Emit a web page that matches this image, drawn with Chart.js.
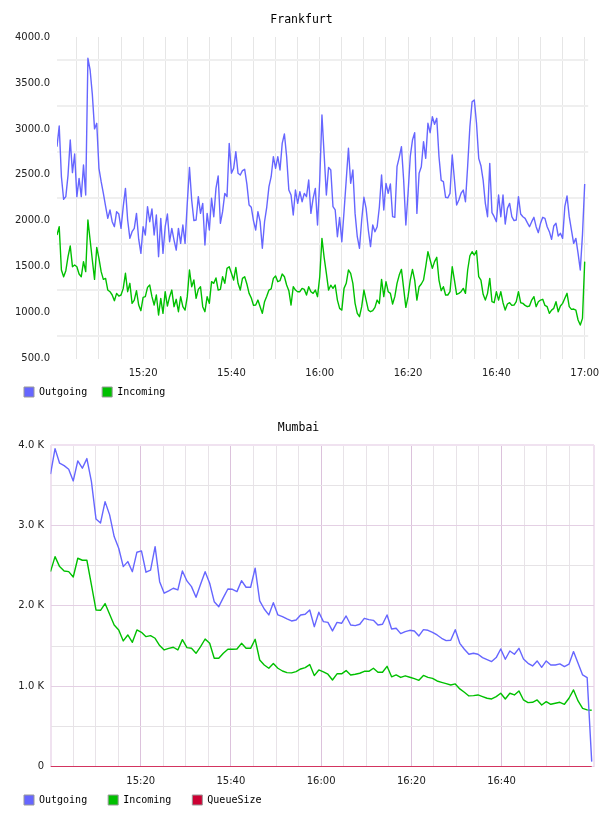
<!DOCTYPE html>
<html lang="en">
  <head>
    <meta charset="UTF-8" />
    <title>Frankfurt / Mumbai traffic</title>
    <script src="https://cdn.jsdelivr.net/npm/chart.js"></script>
    <style>
      body {
        margin: 0;
        background: #ffffff;
      }
      .box {
        width: 608px;
        height: 408px;
        overflow: hidden;
      }
    </style>
  </head>
  <body>
    <div class="box"><canvas id="frankfurt" width="608" height="408"></canvas></div>
    <div class="box"><canvas id="mumbai" width="608" height="408"></canvas></div>

    <script>
      // ---- data ----
      const baseTime = "15:00:00";

      const frankfurtStart = "15:00:30";
      const frankfurtStepSec = 30;
      const frankfurtTickLabels = ["15:20", "15:40", "16:00", "16:20", "16:40", "17:00"];
      const frankfurtYTicks = [500, 1000, 1500, 2000, 2500, 3000, 3500, 4000];

      const frankfurtOutgoing = [
        2807, 3032, 2480, 2234, 2263, 2498, 2879, 2524, 2727, 2263,
        2462, 2263, 2607, 2281, 3768, 3641, 3376, 3000, 3061, 2571,
        2426, 2299, 2161, 2027, 2118, 1991, 1936, 2100, 2074, 1918,
        2154, 2353, 2009, 1809, 1882, 1918, 2081, 1800, 1646, 1936,
        1846, 2154, 1990, 2130, 1846, 2063, 1610, 2027, 1646, 1936,
        2074, 1773, 1918, 1791, 1682, 1918, 1755, 1954, 1755, 2190,
        2582, 2226, 2002, 2009, 2263, 2081, 2190, 1737, 2081, 1900,
        2245, 2045, 2353, 2488, 1973, 2100, 2299, 2263, 2843, 2517,
        2571, 2752, 2517, 2499, 2546, 2560, 2400, 2172, 2147, 2000,
        1900, 2100, 1991, 1701, 1990, 2150, 2372, 2480, 2698, 2571,
        2698, 2553, 2843, 2945, 2700, 2335, 2281, 2063, 2335, 2190,
        2317, 2208, 2299, 2263, 2444, 2081, 2245, 2353, 1955, 2444,
        3151, 2716, 2281, 2582, 2553, 2154, 2118, 1827, 2038, 1773,
        2100, 2444, 2789, 2408, 2553, 2081, 1827, 1701, 2009, 2256,
        2136, 1900, 1719, 1955, 1882, 1936, 2150, 2499, 2118, 2408,
        2300, 2401, 2045, 2038, 2589, 2691, 2807, 2444, 1955, 2300,
        2700, 2879, 2959, 2081, 2517, 2589, 2861, 2680, 3061, 2959,
        3133, 3050, 3115, 2700, 2440, 2426, 2256, 2250, 2299, 2716,
        2450, 2172, 2226, 2300, 2335, 2208, 2600, 3024, 3296, 3315,
        3061, 2680, 2600, 2444, 2190, 2045, 2625, 2089, 2045, 1991,
        2281, 2045, 2281, 1965, 2136, 2190, 2045, 2002, 2009, 2263,
        2074, 2045, 2027, 1980, 1936, 1991, 2038, 1936, 1871, 1973,
        2038, 2027, 1936, 1882, 1798, 1944, 1973, 1835, 1864, 1809,
        2154, 2270, 2045, 1900, 1755, 1809, 1646, 1465, 1850, 2401,
      ];

      const frankfurtIncoming = [
        1846, 1936, 1465, 1392, 1458, 1610, 1726, 1501, 1519, 1501,
        1421, 1392, 1556, 1447, 2009, 1791, 1574, 1363, 1711, 1592,
        1447, 1363, 1374, 1247, 1229, 1193, 1131, 1211, 1182, 1193,
        1265, 1429, 1229, 1320, 1102, 1138, 1240, 1084, 1022, 1167,
        1175, 1276, 1301, 1175, 1084, 1193, 975, 1156, 993, 1229,
        1073, 1175, 1247, 1066, 1146, 1011, 1175, 1066, 1029, 1175,
        1465, 1283, 1356, 1156, 1254, 1283, 1066, 1011, 1175, 1102,
        1338, 1320, 1378, 1247, 1254, 1392, 1320, 1483, 1501, 1429,
        1356, 1494, 1320, 1247, 1374, 1392, 1313, 1211, 1160, 1080,
        1084, 1138, 1066, 993, 1120, 1180, 1247, 1260, 1374, 1400,
        1338, 1349, 1421, 1392, 1302, 1240, 1084, 1283, 1247, 1229,
        1229, 1265, 1254, 1193, 1283, 1229, 1211, 1247, 1175, 1392,
        1809, 1600, 1428, 1247, 1300, 1265, 1302, 1138, 1048, 1029,
        1265, 1320, 1465, 1428, 1320, 1102, 993, 957, 1066, 1247,
        1138, 1029, 1011, 1022, 1058, 1138, 1100, 1363, 1175, 1338,
        1229, 1211, 1095, 1175, 1320, 1410, 1472, 1265, 1058, 1175,
        1356, 1472, 1356, 1138, 1283, 1313, 1356, 1501, 1664, 1574,
        1483, 1556, 1603, 1356, 1240, 1283, 1193, 1193, 1230, 1501,
        1356, 1200, 1211, 1229, 1265, 1211, 1465, 1620, 1664, 1628,
        1675, 1392, 1356, 1200, 1138, 1211, 1374, 1120, 1109, 1229,
        1138, 1229, 1109, 1029, 1095, 1109, 1080, 1084, 1120, 1229,
        1109, 1102, 1080, 1066, 1073, 1138, 1175, 1066, 1120, 1138,
        1146, 1080, 1066, 993, 1029, 1048, 1120, 1011, 1073, 1102,
        1157, 1211, 1066, 1037, 1040, 1029, 921, 866, 939, 1556,
      ];

      const mumbaiStart = "15:00:00";
      const mumbaiStepSec = 60.5;
      const mumbaiTickLabels = ["15:20", "15:40", "16:00", "16:20", "16:40"];
      const mumbaiYTicks = [0, 1000, 2000, 3000, 4000];

      const mumbaiOutgoing = [
        3637, 3955, 3774, 3744, 3699, 3553, 3802, 3711, 3831, 3545,
        3081, 3031, 3296, 3131, 2861, 2716, 2488, 2550, 2425, 2667,
        2683, 2418, 2443, 2736, 2301, 2157, 2185, 2219, 2198, 2434,
        2310, 2239, 2107, 2269, 2425, 2281, 2052, 1990, 2102, 2210,
        2206, 2177, 2313, 2231, 2231, 2468, 2061, 1961, 1887, 2040,
        1887, 1866, 1837, 1812, 1824, 1887, 1895, 1949, 1741, 1920,
        1804, 1795, 1688, 1795, 1783, 1874, 1762, 1754, 1771, 1845,
        1829, 1820, 1762, 1771, 1887, 1713, 1721, 1655, 1680, 1696,
        1688, 1626, 1704, 1696, 1671, 1638, 1597, 1568, 1572, 1704,
        1534, 1460, 1398, 1410, 1398, 1357, 1332, 1307, 1357, 1464,
        1336, 1439, 1398, 1472, 1340, 1286, 1253, 1315, 1236, 1315,
        1265, 1265, 1278, 1245, 1274, 1431, 1286, 1141, 1108, 63,
      ];

      const mumbaiIncoming = [
        2425, 2612, 2488, 2434, 2425, 2359, 2592, 2567, 2567, 2260,
        1949, 1945, 2028, 1895, 1762, 1700, 1564, 1638, 1547, 1700,
        1671, 1617, 1630, 1597, 1506, 1452, 1472, 1485, 1452, 1580,
        1481, 1472, 1410, 1493, 1588, 1534, 1348, 1348, 1410, 1460,
        1460, 1464, 1534, 1472, 1472, 1584, 1327, 1265, 1224, 1282,
        1224, 1190, 1170, 1166, 1183, 1215, 1232, 1270, 1133, 1203,
        1180, 1150, 1078, 1155, 1155, 1195, 1141, 1149, 1162, 1186,
        1186, 1224, 1174, 1174, 1248, 1118, 1141, 1110, 1130, 1112,
        1095, 1074, 1135, 1110, 1099, 1066, 1049, 1033, 1016, 1029,
        967, 925, 880, 884, 892, 871, 851, 842, 871, 913,
        842, 913, 892, 942, 830, 797, 801, 830, 767, 809,
        776, 789, 801, 776, 851, 955, 818, 726, 706, 701,
      ];

      const mumbaiQueueSize = [
        0, 0, 0, 0, 0, 0, 0, 0, 0, 0, 0, 0, 0, 0, 0, 0, 0, 0, 0, 0,
        0, 0, 0, 0, 0, 0, 0, 0, 0, 0, 0, 0, 0, 0, 0, 0, 0, 0, 0, 0,
        0, 0, 0, 0, 0, 0, 0, 0, 0, 0, 0, 0, 0, 0, 0, 0, 0, 0, 0, 0,
        0, 0, 0, 0, 0, 0, 0, 0, 0, 0, 0, 0, 0, 0, 0, 0, 0, 0, 0, 0,
        0, 0, 0, 0, 0, 0, 0, 0, 0, 0, 0, 0, 0, 0, 0, 0, 0, 0, 0, 0,
        0, 0, 0, 0, 0, 0, 0, 0, 0, 0, 0, 0, 0, 0, 0, 0, 0, 0, 0, 0,
      ];

      // ---- helpers ----
      // minutes after baseTime
      function toMinutes(t) {
        const p = t.split(":").map(Number);
        const b = baseTime.split(":").map(Number);
        return (p[0] - b[0]) * 60 + (p[1] - b[1]) + ((p[2] || 0) - b[2]) / 60;
      }

      function toPoints(values, start, stepSec) {
        const t0 = toMinutes(start);
        return values.map((v, i) => ({ x: t0 + (i * stepSec) / 60, y: v }));
      }

      const tickFont = { family: "DejaVu Sans", size: 10 };
      const monoTitle = { family: "DejaVu Sans Mono", size: 11.5, weight: "normal" };
      const monoLegend = { family: "DejaVu Sans Mono", size: 10 };

      function legendLabels(chart) {
        return chart.data.datasets.map((ds, i) => ({
          text: ds.label,
          fillStyle: ds.borderColor,
          strokeStyle: "#999999",
          lineWidth: 1,
          hidden: false,
          datasetIndex: i,
          fontColor: "#000000",
        }));
      }

      // the legend row sits tighter under the tick labels than its padding allows
      const liftLegend = {
        id: "liftLegend",
        afterLayout(chart, args, opts) {
          const lg = chart.legend;
          if (!lg) return;
          lg.top -= opts.lift;
          lg.bottom -= opts.lift;
        },
      };

      function lineSet(label, color, points) {
        return {
          label: label,
          data: points,
          borderColor: color,
          backgroundColor: color,
          borderWidth: 1.4,
          pointRadius: 0,
          tension: 0,
          fill: false,
          borderJoinStyle: "round",
        };
      }

      Chart.defaults.animation = false;

      // ---- Frankfurt ----
      const fLabelled = frankfurtTickLabels.map(toMinutes);

      new Chart(document.getElementById("frankfurt"), {
        type: "line",
        plugins: [liftLegend],
        data: {
          datasets: [
            lineSet("Outgoing", "#6666ff", toPoints(frankfurtOutgoing, frankfurtStart, frankfurtStepSec)),
            lineSet("Incoming", "#00c000", toPoints(frankfurtIncoming, frankfurtStart, frankfurtStepSec)),
          ],
        },
        options: {
          responsive: false,
          events: [],
          layout: { padding: { left: 9, right: 14, top: 0, bottom: -6.5 } },
          plugins: {
            liftLegend: { lift: 7.5 },
            title: {
              display: true,
              text: "Frankfurt",
              color: "#000000",
              font: monoTitle,
              padding: { top: 13.6, bottom: 9.6 },
            },
            legend: {
              position: "bottom",
              align: "start",
              labels: {
                boxWidth: 10,
                boxHeight: 10,
                padding: 15,
                font: monoLegend,
                color: "#000000",
                generateLabels: legendLabels,
              },
            },
            tooltip: { enabled: false },
          },
          scales: {
            x: {
              type: "linear",
              min: 0.5,
              max: 120.8,
              afterBuildTicks: (axis) => {
                const ticks = [];
                for (let m = 5; m <= 120; m += 5) ticks.push({ value: m });
                axis.ticks = ticks;
              },
              afterFit: (axis) => {
                axis.height = 20.8;
              },
              grid: { drawTicks: false, color: "#e6e6e6", lineWidth: 1 },
              border: { display: false },
              ticks: {
                autoSkip: false,
                maxRotation: 0,
                padding: 8.8,
                font: tickFont,
                color: "#222222",
                callback: (v) => {
                  const i = fLabelled.findIndex((m) => Math.abs(m - v) < 0.01);
                  return i >= 0 ? frankfurtTickLabels[i] : "";
                },
              },
            },
            y: {
              min: 500,
              max: 4000,
              afterBuildTicks: (axis) => {
                const ticks = [];
                for (let v = 500; v <= 4000; v += 250) ticks.push({ value: v });
                axis.ticks = ticks;
              },
              afterFit: (axis) => {
                axis.width = 48;
              },
              grid: {
                drawTicks: false,
                lineWidth: 2,
                color: (ctx) =>
                  ctx.tick && frankfurtYTicks.includes(ctx.tick.value) ? "rgba(0,0,0,0)" : "#efefef",
              },
              border: { display: false },
              ticks: {
                padding: 7,
                font: tickFont,
                color: "#222222",
                callback: (v) => (frankfurtYTicks.includes(v) ? v.toFixed(1) : ""),
              },
            },
          },
        },
      });

      // ---- Mumbai ----
      const mLabelled = mumbaiTickLabels.map(toMinutes);
      const mumbaiMax = 120.5;

      new Chart(document.getElementById("mumbai"), {
        type: "line",
        plugins: [liftLegend],
        data: {
          datasets: [
            lineSet("Outgoing", "#6666ff", toPoints(mumbaiOutgoing, mumbaiStart, mumbaiStepSec)),
            lineSet("Incoming", "#00c000", toPoints(mumbaiIncoming, mumbaiStart, mumbaiStepSec)),
            lineSet("QueueSize", "#cc0033", toPoints(mumbaiQueueSize, mumbaiStart, mumbaiStepSec)),
          ],
        },
        options: {
          responsive: false,
          events: [],
          layout: { padding: { left: 3, right: 14, top: 0, bottom: -12.5 } },
          plugins: {
            liftLegend: { lift: 13.5 },
            title: {
              display: true,
              text: "Mumbai",
              color: "#000000",
              font: monoTitle,
              padding: { top: 13.6, bottom: 9.6 },
            },
            legend: {
              position: "bottom",
              align: "start",
              labels: {
                boxWidth: 10,
                boxHeight: 10,
                padding: 21,
                font: monoLegend,
                color: "#000000",
                generateLabels: legendLabels,
              },
            },
            tooltip: { enabled: false },
          },
          scales: {
            x: {
              type: "linear",
              min: 0,
              max: mumbaiMax,
              afterBuildTicks: (axis) => {
                const ticks = [];
                for (let m = 0; m <= 115; m += 5) ticks.push({ value: m });
                ticks.push({ value: mumbaiMax });
                axis.ticks = ticks;
              },
              afterFit: (axis) => {
                axis.height = 20.8;
              },
              grid: {
                drawTicks: false,
                lineWidth: (ctx) => (ctx.tick && (ctx.tick.value === 0 || ctx.tick.value === mumbaiMax) ? 2 : 1),
                color: (ctx) => {
                  if (!ctx.tick) return "#e8e2e8";
                  const v = ctx.tick.value;
                  if (v === 0 || v === mumbaiMax) return "#f0e2f0";
                  if (mLabelled.some((m) => Math.abs(m - v) < 0.01)) return "#dcc2dc";
                  return "#e8e3e8";
                },
              },
              border: { display: false },
              ticks: {
                autoSkip: false,
                maxRotation: 0,
                padding: 8.8,
                font: tickFont,
                color: "#222222",
                callback: (v) => {
                  const i = mLabelled.findIndex((m) => Math.abs(m - v) < 0.01);
                  return i >= 0 ? mumbaiTickLabels[i] : "";
                },
              },
            },
            y: {
              min: 0,
              max: 4000,
              afterBuildTicks: (axis) => {
                const ticks = [];
                for (let v = 0; v <= 4000; v += 500) ticks.push({ value: v });
                axis.ticks = ticks;
              },
              afterFit: (axis) => {
                axis.width = 47.5;
              },
              grid: {
                drawTicks: false,
                lineWidth: (ctx) => (ctx.tick && ctx.tick.value === 4000 ? 2 : 1),
                color: (ctx) => {
                  if (!ctx.tick) return "#e6e2e6";
                  const v = ctx.tick.value;
                  if (v === 4000) return "#f0e2f0";
                  if (v === 0) return "#e6cfe6";
                  if (mumbaiYTicks.includes(v)) return "#e4d0e4";
                  return "#e6e3e6";
                },
              },
              border: { display: false },
              ticks: {
                padding: 6.5,
                font: tickFont,
                color: "#222222",
                callback: (v) => {
                  if (!mumbaiYTicks.includes(v)) return "";
                  return v === 0 ? "0" : (v / 1000).toFixed(1) + " K";
                },
              },
            },
          },
        },
      });
    </script>
  </body>
</html>
